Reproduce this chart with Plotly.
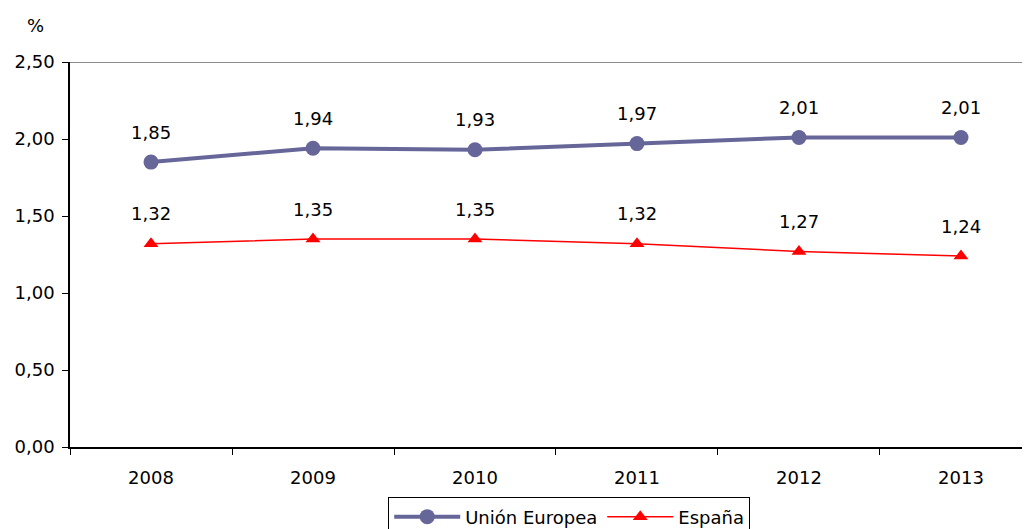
import plotly.graph_objects as go

years = ["2008", "2009", "2010", "2011", "2012", "2013"]
ue = [1.85, 1.94, 1.93, 1.97, 2.01, 2.01]
esp = [1.32, 1.35, 1.35, 1.32, 1.27, 1.24]
y_ticks = [0, 0.5, 1.0, 1.5, 2.0, 2.5]

FONT = "DejaVu Sans"

fig = go.Figure()

fig.add_trace(go.Scatter(
    x=years, y=ue, name="Unión Europea", mode="lines+markers",
    line=dict(color="#666699", width=4),
    marker=dict(symbol="circle", size=15, color="#666699"),
))
fig.add_trace(go.Scatter(
    x=years, y=esp, name="España", mode="lines+markers",
    line=dict(color="#ff0000", width=1.5),
    marker=dict(symbol="triangle-up", size=13, color="#ff0000"),
))

# data labels (category axis -> use the category index)
for serie in (ue, esp):
    for i, v in enumerate(serie):
        fig.add_annotation(
            x=i, y=v, text=f"{v:.2f}".replace(".", ","), showarrow=False,
            yshift=30, font=dict(family=FONT, size=18, color="black"),
        )

fig.add_annotation(
    xref="paper", yref="paper", x=-0.036, y=1.095, text="%", showarrow=False,
    xanchor="center", yanchor="middle", font=dict(family=FONT, size=18, color="black"),
)

# top border line
fig.add_shape(type="line", xref="paper", yref="y", x0=0, x1=1, y0=2.5, y1=2.5,
              line=dict(color="#8c8c8c", width=2))

# page body has an 8px margin; the legend runs past the bottom of the window
fig.update_layout(
    width=1022, height=532,
    margin=dict(l=62, r=0, t=54, b=93),
    plot_bgcolor="white", paper_bgcolor="white",
    separators=",.",
    font=dict(family=FONT, size=18, color="black"),
    showlegend=True,
    legend=dict(
        orientation="h", x=0.52, xanchor="center", y=-0.131, yanchor="top",
        bordercolor="black", borderwidth=1, itemwidth=66,
        font=dict(family=FONT, size=18), tracegroupgap=0,
    ),
    xaxis=dict(
        type="category", range=[-0.5, 5.426], tickson="boundaries",
        ticks="outside", ticklen=6, tickcolor="black",
        showline=True, linecolor="black", linewidth=1.5,
        showgrid=False, zeroline=False, ticklabelstandoff=14,
        tickfont=dict(family=FONT, size=18), automargin=False,
    ),
    yaxis=dict(
        range=[0, 2.5], tickvals=y_ticks, tickformat=".2f",
        ticks="outside", ticklen=6, tickcolor="black",
        showline=True, linecolor="black", linewidth=1.5,
        showgrid=False, zeroline=False, ticklabelstandoff=4,
        tickfont=dict(family=FONT, size=18), automargin=False,
    ),
)

fig.write_html("out.html")
